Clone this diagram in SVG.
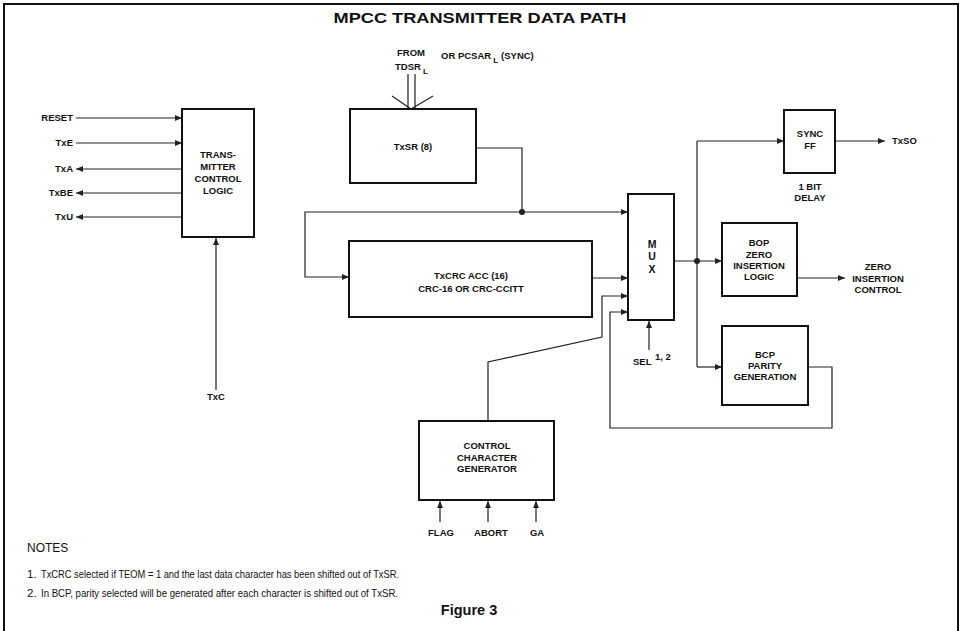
<svg xmlns="http://www.w3.org/2000/svg" width="961" height="631" viewBox="0 0 961 631">
  <style>
    .box { fill: #fff; stroke: #111; stroke-width: 2; }
    .wire { fill: none; stroke: #222; stroke-width: 1.2; }
    .lbl { font-family: "Liberation Sans", Arial, sans-serif; font-weight: bold; font-size: 9.5px; fill: #111; }
    .mid { text-anchor: middle; }
    .end { text-anchor: end; }
    .note { font-family: "Liberation Sans", Arial, sans-serif; font-size: 11.5px; fill: #111; }
  </style>
  <defs>
    <marker id="arr" markerWidth="8" markerHeight="6" refX="7" refY="3" orient="auto" markerUnits="userSpaceOnUse">
      <path d="M0,0 L7,3 L0,6 z" fill="#222"/>
    </marker>
  </defs>

  <rect width="961" height="631" fill="#fff"/>
  <!-- frame (open at the bottom) -->
  <path d="M4,640 V4 H958 V640" fill="none" stroke="#111" stroke-width="2"/>

  <text x="480" y="23" class="lbl mid" textLength="293" lengthAdjust="spacingAndGlyphs" style="font-size:15px">MPCC TRANSMITTER DATA PATH</text>

  <!-- source label -->
  <text x="411" y="56" class="lbl mid">FROM</text>
  <text x="395" y="70" class="lbl">TDSR<tspan font-size="8" dx="2" dy="4">L</tspan></text>
  <text x="441" y="59" class="lbl">OR PCSAR<tspan font-size="8" dx="2" dy="4">L</tspan><tspan dx="3" dy="-4">(SYNC)</tspan></text>

  <!-- connectors -->
  <g id="connectors">
    <path class="wire" d="M76,118 H182" marker-end="url(#arr)"/>
    <path class="wire" d="M76,143 H182" marker-end="url(#arr)"/>
    <path class="wire" d="M182,169 H76" marker-end="url(#arr)"/>
    <path class="wire" d="M182,193 H76" marker-end="url(#arr)"/>
    <path class="wire" d="M182,217 H76" marker-end="url(#arr)"/>
    <path class="wire" d="M216,390 V238" marker-end="url(#arr)"/>

    <path class="wire" d="M408,74 V109 M415,74 V109"/>
    <path class="wire" d="M392,96 L411,109 L433,96"/>

    <path class="wire" d="M476,148 H522 V212"/>
    <path class="wire" d="M522,212 H628" marker-end="url(#arr)"/>
    <path class="wire" d="M522,212 H305 V277 H349" marker-end="url(#arr)"/>
    <circle cx="522" cy="212" r="3" fill="#222"/>

    <path class="wire" d="M592,278 H628" marker-end="url(#arr)"/>
    <path class="wire" d="M488,421 V362 L602,337 V296 H628" marker-end="url(#arr)"/>
    <path class="wire" d="M808,367 H832 V428 H610 V312 H628" marker-end="url(#arr)"/>
    <path class="wire" d="M649,350 V321" marker-end="url(#arr)"/>

    <path class="wire" d="M674,261 H722" marker-end="url(#arr)"/>
    <path class="wire" d="M697,141 V367"/>
    <path class="wire" d="M697,141 H784" marker-end="url(#arr)"/>
    <path class="wire" d="M697,367 H722" marker-end="url(#arr)"/>
    <circle cx="697" cy="261" r="3" fill="#222"/>

    <path class="wire" d="M835,141 H885" marker-end="url(#arr)"/>
    <path class="wire" d="M797,278 H845" marker-end="url(#arr)"/>

    <path class="wire" d="M440,522 V501" marker-end="url(#arr)"/>
    <path class="wire" d="M488,522 V501" marker-end="url(#arr)"/>
    <path class="wire" d="M536,522 V501" marker-end="url(#arr)"/>
  </g>

  <!-- control signal labels -->
  <text x="73" y="121" class="lbl end">RESET</text>
  <text x="73" y="146" class="lbl end">TxE</text>
  <text x="73" y="172" class="lbl end">TxA</text>
  <text x="73" y="196" class="lbl end">TxBE</text>
  <text x="73" y="220" class="lbl end">TxU</text>
  <text x="216" y="400" class="lbl mid">TxC</text>

  <g id="tx-control">
    <rect class="box" x="182" y="109" width="72" height="128"/>
    <text class="lbl mid" x="218" y="158">TRANS-</text>
    <text class="lbl mid" x="218" y="170">MITTER</text>
    <text class="lbl mid" x="218" y="182">CONTROL</text>
    <text class="lbl mid" x="218" y="194">LOGIC</text>
  </g>

  <g id="txsr">
    <rect class="box" x="350" y="109" width="126" height="74"/>
    <text class="lbl mid" x="413" y="150">TxSR (8)</text>
  </g>

  <g id="txcrc">
    <rect class="box" x="349" y="241" width="243" height="76"/>
    <text class="lbl mid" x="471" y="279">TxCRC ACC (16)</text>
    <text class="lbl mid" x="471" y="292">CRC-16 OR CRC-CCITT</text>
  </g>

  <g id="mux">
    <rect class="box" x="628" y="194" width="46" height="126"/>
    <text class="lbl mid" x="652" y="248" style="font-size:10.5px">M</text>
    <text class="lbl mid" x="652" y="260" style="font-size:10.5px">U</text>
    <text class="lbl mid" x="652" y="273" style="font-size:10.5px">X</text>
  </g>
  <text x="633" y="365" class="lbl">SEL</text>
  <text x="655" y="360" class="lbl">1, 2</text>

  <g id="sync-ff">
    <rect class="box" x="784" y="110" width="51" height="63"/>
    <text class="lbl mid" x="810" y="137">SYNC</text>
    <text class="lbl mid" x="810" y="149">FF</text>
  </g>
  <text x="810" y="190" class="lbl mid">1 BIT</text>
  <text x="810" y="201" class="lbl mid">DELAY</text>
  <text x="892" y="144" class="lbl">TxSO</text>

  <g id="bop">
    <rect class="box" x="722" y="223" width="75" height="73"/>
    <text class="lbl mid" x="759" y="246">BOP</text>
    <text class="lbl mid" x="759" y="258">ZERO</text>
    <text class="lbl mid" x="759" y="269">INSERTION</text>
    <text class="lbl mid" x="759" y="280">LOGIC</text>
  </g>
  <text x="878" y="270" class="lbl mid">ZERO</text>
  <text x="878" y="282" class="lbl mid">INSERTION</text>
  <text x="878" y="293" class="lbl mid">CONTROL</text>

  <g id="bcp">
    <rect class="box" x="722" y="326" width="86" height="79"/>
    <text class="lbl mid" x="765" y="358">BCP</text>
    <text class="lbl mid" x="765" y="369">PARITY</text>
    <text class="lbl mid" x="765" y="380">GENERATION</text>
  </g>

  <g id="ctrl-gen">
    <rect class="box" x="419" y="421" width="135" height="79"/>
    <text class="lbl mid" x="487" y="449">CONTROL</text>
    <text class="lbl mid" x="487" y="461">CHARACTER</text>
    <text class="lbl mid" x="487" y="472">GENERATOR</text>
  </g>
  <text x="441" y="536" class="lbl mid">FLAG</text>
  <text x="491" y="536" class="lbl mid">ABORT</text>
  <text x="537" y="536" class="lbl mid">GA</text>

  <!-- notes -->
  <text x="27" y="552" class="note" style="font-size:12px">NOTES</text>
  <text x="27" y="578" class="note">1.</text>
  <text x="41" y="578" class="note" textLength="358" lengthAdjust="spacingAndGlyphs">TxCRC selected if TEOM = 1 and the last data character has been shifted out of TxSR.</text>
  <text x="27" y="597" class="note">2.</text>
  <text x="41" y="597" class="note" textLength="357" lengthAdjust="spacingAndGlyphs">In BCP, parity selected will be generated after each character is shifted out of TxSR.</text>

  <text x="469" y="615" class="lbl mid" style="font-size:14.5px">Figure 3</text>
</svg>
